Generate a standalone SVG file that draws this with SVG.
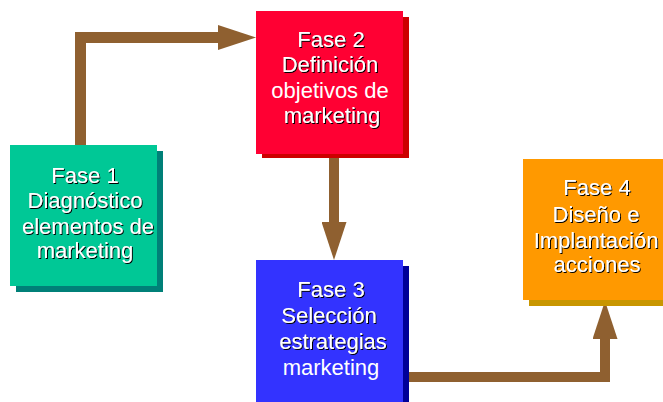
<svg xmlns="http://www.w3.org/2000/svg" width="663" height="402" viewBox="0 0 663 402">
  <defs>
    <style>
      .lbl { font-family: "Liberation Sans", Arial, sans-serif; font-size: 22px; fill: #ffffff; text-anchor: middle; }
      .sh { filter: url(#ts); }
      .conn { fill: none; stroke: #8f6030; stroke-linejoin: miter; stroke-linecap: butt; marker-end: url(#head); }
    </style>
    <filter id="ts" x="-10%" y="-20%" width="120%" height="150%">
      <feDropShadow dx="1" dy="1" stdDeviation="0" flood-color="#000000" flood-opacity="1"/>
    </filter>
    <marker id="head" viewBox="0 0 38 25" refX="0" refY="12.5" markerWidth="38" markerHeight="25" markerUnits="userSpaceOnUse" orient="auto">
      <path d="M0,0 L38,12.5 L0,25 Z" fill="#8f6030"/>
    </marker>
  </defs>
  <rect width="663" height="402" fill="#ffffff"/>

  <g id="connectors">
    <path class="conn" d="M80.5,146 V37.5 H218" stroke-width="11"/>
    <path class="conn" d="M334,154 V222" stroke-width="10"/>
    <path class="conn" d="M405,377 H605 V339" stroke-width="10"/>
  </g>

  <g id="fase1">
    <rect x="16" y="151" width="147" height="141" fill="#008078"/>
    <rect x="10" y="145" width="147" height="141" fill="#00c896"/>
    <text class="lbl sh" x="85" y="183">Fase 1</text>
    <text class="lbl sh" x="85" y="208">Diagnóstico</text>
    <text class="lbl sh" x="88" y="234">elementos de</text>
    <text class="lbl sh" x="85" y="258">marketing</text>
  </g>

  <g id="fase2">
    <rect x="262" y="17" width="147" height="141" fill="#cc0000"/>
    <rect x="256" y="11" width="147" height="143" fill="#ff0033"/>
    <text class="lbl sh" x="331" y="47">Fase 2</text>
    <text class="lbl sh" x="330" y="72">Definición</text>
    <text class="lbl" x="330" y="98">objetivos de</text>
    <text class="lbl sh" x="332" y="123">marketing</text>
  </g>

  <g id="fase3">
    <rect x="262" y="266" width="147" height="136" fill="#000099"/>
    <rect x="256" y="260" width="147" height="142" fill="#3333ff"/>
    <text class="lbl sh" x="331" y="297">Fase 3</text>
    <text class="lbl sh" x="329" y="323">Selección</text>
    <text class="lbl sh" x="333" y="349">estrategias</text>
    <text class="lbl" x="331" y="375">marketing</text>
  </g>

  <g id="fase4">
    <rect x="529" y="165" width="134" height="141" fill="#c89600"/>
    <rect x="523" y="159" width="140" height="141" fill="#ff9900"/>
    <text class="lbl sh" x="597" y="195">Fase 4</text>
    <text class="lbl sh" x="596" y="222">Diseño e</text>
    <text class="lbl sh" x="596" y="248">Implantación</text>
    <text class="lbl sh" x="597" y="272">acciones</text>
  </g>
</svg>
